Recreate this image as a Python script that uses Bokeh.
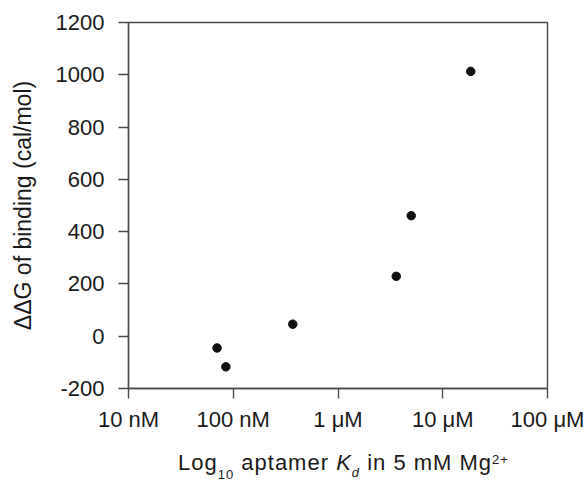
from bokeh.plotting import figure
from bokeh.models import FixedTicker, Range1d, Div
from bokeh.layouts import column
from bokeh.embed import file_html
from bokeh.resources import INLINE

# Data
kd_molar = [70e-9, 85e-9, 370e-9, 3.6e-6, 5.0e-6, 18.5e-6]
ddg_cal = [-45, -117, 46, 229, 461, 1013]

x_ticks = [1e-8, 1e-7, 1e-6, 1e-5, 1e-4]
x_tick_labels = ["10 nM", "100 nM", "1 \u03bcM", "10 \u03bcM", "100 \u03bcM"]
y_ticks = [-200, 0, 200, 400, 600, 800, 1000, 1200]
y_tick_labels = ["-200", "0", "200", "400", "600", "800", "1000", "1200"]

FONT = "Liberation Sans"
TXT = "#1a1a1a"
LINE = "#4a4a4a"

p = figure(width=587, height=440, x_axis_type="log",
           x_range=Range1d(1e-8, 1e-4), y_range=Range1d(-200, 1200),
           output_backend="svg", toolbar_location=None,
           min_border_left=128, min_border_right=40,
           min_border_top=22, min_border_bottom=52)

p.scatter(kd_molar, ddg_cal, size=8.5, color="#111111")

p.grid.visible = False
p.outline_line_color = LINE
p.outline_line_width = 1.4
p.background_fill_color = "white"
p.border_fill_color = "white"

# x axis
xa = p.xaxis[0]
xa.ticker = FixedTicker(ticks=x_ticks, minor_ticks=[])
xa.major_label_overrides = {t: l for t, l in zip(x_ticks, x_tick_labels)}
xa.major_label_text_font = FONT
xa.major_label_text_font_size = "22px"
xa.major_label_text_color = TXT
xa.major_label_standoff = 8
xa.major_tick_out = 10
xa.major_tick_in = 0
xa.minor_tick_out = 0
xa.minor_tick_in = 0
xa.axis_line_color = LINE
xa.axis_line_width = 1.4
xa.major_tick_line_color = LINE
xa.major_tick_line_width = 1.4

# y axis
ya = p.yaxis[0]
ya.ticker = FixedTicker(ticks=y_ticks, minor_ticks=[])
ya.major_label_overrides = {t: l for t, l in zip(y_ticks, y_tick_labels)}
ya.major_label_text_font = FONT
ya.major_label_text_font_size = "22px"
ya.major_label_text_color = TXT
ya.major_label_standoff = 14
ya.major_tick_out = 10
ya.major_tick_in = 0
ya.minor_tick_out = 0
ya.minor_tick_in = 0
ya.axis_line_color = LINE
ya.axis_line_width = 1.4
ya.major_tick_line_color = LINE
ya.major_tick_line_width = 1.4
ya.axis_label = "\u0394\u0394G of binding (cal/mol)"
ya.axis_label_text_font = FONT
ya.axis_label_text_font_size = "23px"
ya.axis_label_text_font_style = "normal"
ya.axis_label_text_color = TXT
ya.axis_label_standoff = 17

# x axis title with subscript, italics and superscript
sub = "position:relative;top:9px;font-size:13px;"
sub_d = "position:relative;top:7px;font-size:13px;font-style:italic;"
sup = "position:relative;top:-6px;font-size:13px;"
title_html = (
    f'Log<span style="{sub}">10</span> aptamer <i>K</i>'
    f'<span style="{sub_d}">d</span> in 5 mM Mg<span style="{sup}">2+</span>'
)
xlabel = Div(text=title_html, width=587, height=42,
             styles={"font-family": FONT, "font-size": "22px",
                     "color": TXT, "letter-spacing": "1px",
                     "line-height": "26px", "padding-left": "178px",
                     "padding-top": "10px", "white-space": "nowrap",
                     "margin": "0", "box-sizing": "border-box"})

layout = column(p, xlabel, spacing=0)
open("out.html", "w").write(file_html(layout, INLINE))
